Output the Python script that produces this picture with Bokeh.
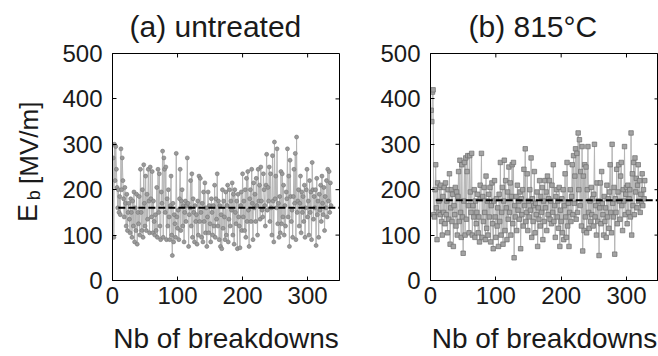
import numpy as np
from bokeh.plotting import figure
from bokeh.models import Range1d, LinearAxis, FixedTicker, Title
from bokeh.core.properties import value
from bokeh.layouts import row
from bokeh.embed import file_html
from bokeh.resources import INLINE

# ---------------- data ----------------
eb_untreated = [
    270, 95, 300, 220, 295, 245, 205, 160, 200, 150, 185, 145, 290, 200, 270, 220, 180, 140, 205, 170,
    120, 190, 110, 150, 170, 135, 105, 180, 150, 95, 175, 120, 195, 85, 160, 110, 190, 80, 150, 125,
    185, 100, 245, 150, 110, 200, 95, 255, 170, 120, 230, 110, 190, 135, 245, 175, 105, 250, 180, 140,
    240, 105, 175, 130, 100, 145, 110, 205, 95, 245, 150, 235, 120, 90, 195, 170, 285, 95, 270, 245,
    150, 250, 90, 180, 120, 200, 140, 90, 165, 230, 100, 55, 170, 85, 145, 125, 95, 280, 140, 115,
    155, 90, 180, 245, 110, 175, 200, 120, 165, 85, 150, 175, 130, 165, 270, 170, 75, 145, 160, 220,
    120, 235, 95, 180, 150, 85, 165, 130, 145, 80, 175, 100, 230, 130, 225, 150, 95, 170, 85, 195,
    130, 215, 105, 160, 75, 140, 195, 105, 165, 125, 85, 180, 150, 100, 165, 120, 210, 95, 180, 135,
    235, 120, 175, 90, 165, 75, 145, 70, 200, 115, 175, 140, 90, 195, 100, 165, 210, 85, 135, 200,
    120, 175, 155, 215, 100, 190, 80, 200, 150, 125, 175, 70, 190, 140, 120, 72, 165, 195, 110, 235,
    140, 175, 110, 200, 95, 225, 130, 240, 155, 75, 180, 200, 130, 245, 170, 90, 215, 160, 190, 130,
    225, 165, 100, 245, 175, 210, 135, 250, 175, 155, 140, 235, 200, 165, 120, 210, 278, 155, 205, 175,
    250, 130, 235, 160, 100, 275, 175, 85, 305, 180, 230, 160, 290, 125, 170, 95, 185, 105, 240, 125,
    235, 140, 210, 100, 165, 120, 195, 180, 290, 140, 230, 75, 265, 185, 130, 155, 95, 185, 245, 170,
    280, 90, 316, 150, 175, 200, 120, 170, 230, 105, 195, 150, 185, 130, 210, 95, 160, 200, 245, 140,
    175, 100, 220, 150, 195, 90, 260, 200, 135, 185, 160, 200, 77, 225, 145, 175, 95, 190, 155, 210,
    130, 230, 170, 145, 205, 110, 185, 160, 220, 140, 245, 175, 240, 150, 215, 165,
]
eb_815 = [
    375, 350, 415, 420, 145, 140, 200, 255, 160, 90, 215, 150, 175, 205, 145, 210, 130, 100, 185, 150,
    205, 125, 215, 145, 175, 105, 200, 135, 235, 80, 160, 200, 130, 190, 75, 165, 145, 205, 120, 195,
    100, 185, 240, 130, 265, 150, 95, 255, 140, 60, 175, 260, 100, 270, 135, 240, 275, 165, 105, 275,
    195, 150, 280, 100, 165, 140, 200, 95, 175, 125, 150, 190, 105, 140, 85, 210, 180, 280, 95, 185,
    130, 205, 150, 90, 230, 115, 175, 100, 190, 140, 205, 85, 165, 215, 125, 70, 175, 220, 140, 95,
    180, 120, 160, 75, 190, 130, 260, 100, 150, 205, 80, 175, 265, 110, 220, 160, 90, 195, 135, 250,
    150, 215, 100, 185, 255, 125, 260, 50, 165, 140, 185, 110, 210, 155, 175, 135, 195, 70, 180, 145,
    200, 120, 245, 165, 290, 130, 150, 235, 110, 175, 140, 200, 155, 270, 95, 180, 130, 165, 240, 105,
    170, 145, 195, 75, 160, 135, 220, 120, 185, 150, 205, 90, 175, 130, 220, 160, 195, 110, 230, 145,
    180, 220, 135, 175, 125, 210, 150, 255, 130, 165, 95, 185, 200, 140, 175, 115, 205, 75, 155, 130,
    180, 105, 200, 90, 165, 235, 140, 95, 260, 120, 170, 75, 150, 200, 130, 185, 255, 145, 275, 170,
    230, 290, 135, 280, 150, 325, 200, 310, 165, 240, 120, 295, 65, 230, 110, 255, 140, 250, 105, 200,
    295, 150, 115, 175, 130, 205, 145, 180, 120, 190, 300, 140, 165, 100, 215, 130, 175, 55, 160, 215,
    125, 240, 170, 145, 100, 185, 130, 160, 95, 210, 140, 180, 115, 195, 255, 150, 105, 300, 170, 140,
    205, 58, 180, 150, 245, 125, 195, 255, 175, 135, 230, 260, 165, 110, 200, 175, 295, 145, 190, 205,
    125, 210, 150, 180, 200, 140, 325, 100, 235, 165, 260, 145, 270, 195, 225, 160, 210, 255, 175, 220,
    150, 190, 170, 235, 165, 200, 180, 220,
]
mean_untreated = 160
mean_815 = 177
dash_start = [9, 8]
titles = ["(a) untreated", "(b) 815\u00b0C"]
x_label = "Nb of breakdowns"
y_label_parts = ["E", "b", "[MV/m]"]
x_ticks = [0, 100, 200, 300]
y_ticks = [0, 100, 200, 300, 400, 500]
x_max = 349
y_max = 500

FONT = "Liberation Sans"
TXT = "#1a1a1a"
H = 356
MB_TOP, MB_BOTTOM = 53, 74
FRAME_H = H - MB_TOP - MB_BOTTOM
TICK = 4


def make_panel(values, mean, x0, marker, width, left, right, title, title_offset):
    frame_w = width - left - right
    sx = frame_w / x_max
    sy = FRAME_H / y_max
    p = figure(width=width, height=H, output_backend="svg", toolbar_location=None,
               x_range=Range1d(0, x_max), y_range=Range1d(0, y_max),
               min_border_left=left, min_border_right=right,
               min_border_top=MB_TOP, min_border_bottom=MB_BOTTOM,
               x_axis_location=None, y_axis_location=None)
    p.title = None
    p.grid.visible = False
    p.outline_line_color = "black"
    p.outline_line_width = 1
    p.background_fill_color = "white"
    p.border_fill_color = "white"

    for loc, ticks in (("below", x_ticks), ("left", y_ticks)):
        ax = LinearAxis(ticker=FixedTicker(ticks=ticks))
        ax.axis_line_color = "black"
        ax.major_tick_line_color = "black"
        ax.major_tick_in = TICK
        ax.major_tick_out = 0
        ax.minor_tick_line_color = None
        ax.major_label_text_font = FONT
        ax.major_label_text_color = TXT
        ax.major_label_text_font_size = "24px"
        if loc == "below":
            ax.major_label_standoff = 6
            ax.axis_label = x_label
            ax.axis_label_text_font = FONT
            ax.axis_label_text_font_size = "28px"
            ax.axis_label_text_font_style = "normal"
            ax.axis_label_text_color = TXT
            ax.axis_label_standoff = 16
        else:
            ax.major_label_standoff = 10
        p.add_layout(ax, loc)

    # inward ticks on the top and right edges of the box
    p.segment(x0=x_ticks, y0=[y_max] * len(x_ticks), x1=x_ticks,
              y1=[y_max - TICK / sy] * len(x_ticks), line_color="black", line_width=1)
    p.segment(x0=[x_max] * len(y_ticks), y0=y_ticks, x1=[x_max - TICK / sx] * len(y_ticks),
              y1=y_ticks, line_color="black", line_width=1)

    xs = list(range(1, len(values) + 1))
    p.line(xs, values, line_color="#b5b5b5", line_width=1)
    if marker == "circle":
        p.scatter(xs, values, marker="circle", size=4, fill_color="#9a9a9a",
                  line_color="#777777", line_width=0.6)
    else:
        p.scatter(xs, values, marker="square", size=4.5, fill_color="#a3a3a3",
                  line_color="#6e6e6e", line_width=0.7)
    p.line([x0, x_max], [mean, mean], line_color="black", line_width=2, line_dash="7 3")

    t = Title(text=title, align="left", offset=title_offset, standoff=17,
              vertical_align="top",
              text_font=FONT, text_font_size="30px", text_font_style="normal",
              text_color=TXT)
    p.add_layout(t, "above")
    return p


# narrow figure that carries the rotated y-axis label E_b [MV/m];
# its frame is aligned with the panels' frames, so the y range maps canvas pixels
LW = 50
pl = figure(width=LW, height=H, output_backend="svg", toolbar_location=None,
            x_range=Range1d(0, LW), y_range=Range1d(MB_BOTTOM, H - MB_TOP),
            min_border_left=0, min_border_right=0,
            min_border_top=MB_TOP, min_border_bottom=MB_BOTTOM,
            x_axis_location=None, y_axis_location=None)
pl.title = None
pl.grid.visible = False
pl.outline_line_color = None
# centres in canvas pixels (y measured from the top)
for txt, cx, cy, fs in ((y_label_parts[0], 27.5, 214, "27px"),
                        (y_label_parts[1], 33.5, 196, "18px"),
                        (y_label_parts[2], 28, 143, "26px")):
    pl.text(x=[cx], y=[H - cy], text=[txt], angle=np.pi / 2,
            text_font=value(FONT), text_font_size=fs, text_align="center",
            text_baseline="middle", text_color=TXT)

pa = make_panel(eb_untreated, mean_untreated, dash_start[0], "circle", 322, 62, 33,
                titles[0], 17)
pb = make_panel(eb_815, mean_815, dash_start[1], "square", 286, 58, 0,
                titles[1], 38)

layout = row(pl, pa, pb)
open("out.html", "w").write(file_html(layout, INLINE))
